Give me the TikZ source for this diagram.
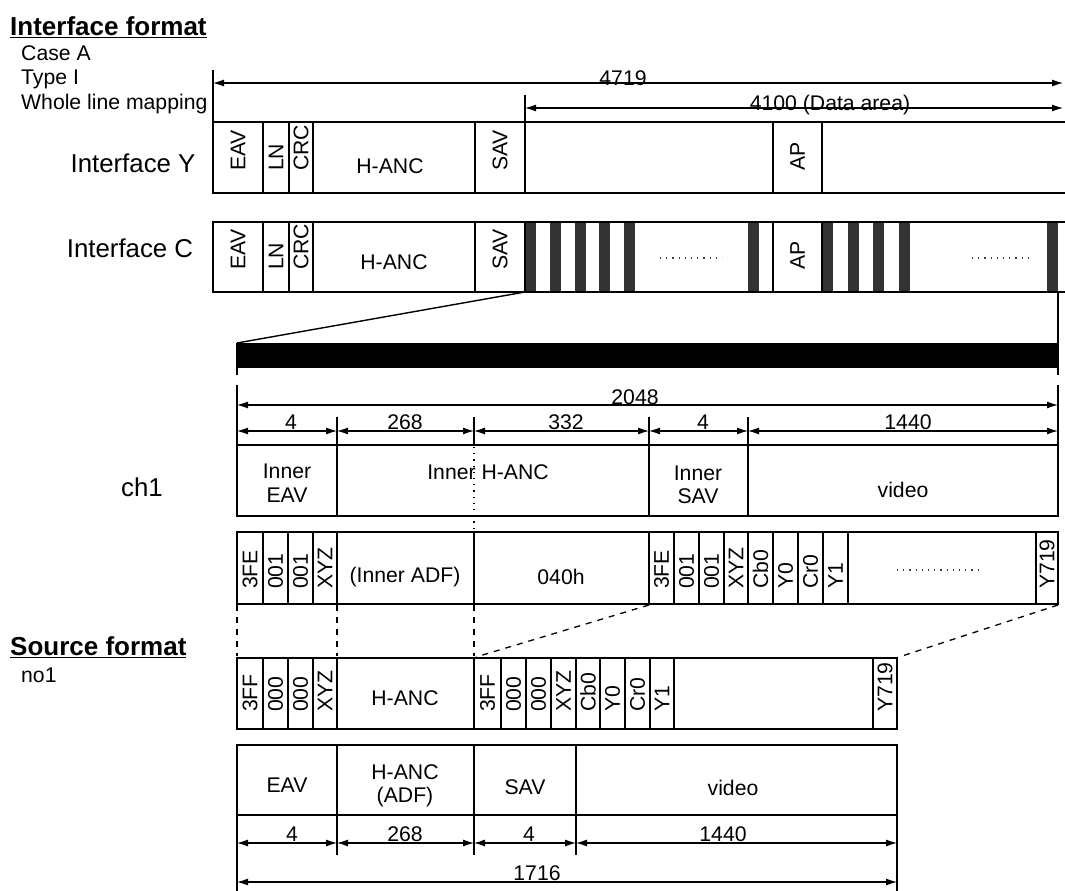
\documentclass[tikz,border=0pt]{standalone}
\usepackage{fontspec}
\setmainfont{Liberation Sans}
\usetikzlibrary{arrows.meta}
\newcommand\myfsS{\fontsize{21.2}{23.5}\selectfont}
\newcommand\myfsL{\fontsize{25.8}{28}\selectfont}
\newcommand\myfsH{\fontsize{26}{28}\selectfont\bfseries}
\begin{document}
\begin{tikzpicture}[x=1pt,y=-1pt,
  frame/.style={line width=2.6pt},
  divider/.style={line width=1.5pt},
  tickline/.style={line width=1.1pt},
  dimline/.style={line width=1.2pt,{Latex[length=11pt,width=7pt]}-{Latex[length=11pt,width=7pt]}},
  lbl/.style={font=\myfsS, inner sep=0pt, align=center},
  big/.style={font=\myfsL, inner sep=0pt},
  head/.style={font=\myfsH, inner sep=0pt, anchor=west},
  rot/.style={font=\myfsS, inner sep=0pt, rotate=90, anchor=west},
  dimlbl/.style={font=\myfsS, inner sep=0pt, anchor=base},
  bar/.style={fill=black!80},
  dashline/.style={line width=1.3pt, dash pattern=on 6pt off 6pt},
  dotline/.style={line width=1.2pt, dash pattern=on 1.2pt off 5pt, black!75},
]
\useasboundingbox (0,0) rectangle (1065,891);

% ---------- headings ----------
\node[head] (hif) at (10,27) {\underline{Interface format}};
\node[lbl, anchor=west] (caseA) at (21,53) {Case A};
\node[lbl, anchor=west] (typeI) at (21,79) {Type I};
\node[lbl, anchor=west] (whole) at (21,104) {Whole line mapping};
\node[big] (ify) at (133,163) {Interface Y};
\node[big] (ifc) at (130,248) {Interface C};

% ---------- top dimensions ----------
\draw[tickline] (213,70) -- (213,122);
\draw[tickline] (525,95) -- (525,122);
\coordinate (d1a) at (213,83); \coordinate (d1b) at (1063,83);
\coordinate (d2a) at (525,108); \coordinate (d2b) at (1063,108);
\draw[dimline] (d1a) -- (d1b);
\draw[dimline] (d2a) -- (d2b);
\node[dimlbl] (l4719) at (623,85) {4719};
\node[dimlbl] (l4100) at (830,110) {4100 (Data area)};

% ---------- Interface Y ----------
\draw[frame] (1070,122) -- (213,122) -- (213,193) -- (1070,193);
\foreach \x in {263,289,313,475,525,773,822} \draw[divider] (\x,122) -- (\x,193);
\node[rot] (yeav) at (238,171) {EAV};
\node[rot] (yln) at (276,171) {LN};
\node[rot] (ycrc) at (301,171) {CRC};
\node[lbl] (yhanc) at (390,166) {H-ANC};
\node[rot] (ysav) at (500,171) {SAV};
\node[rot] (yap) at (797.5,171) {AP};

% ---------- Interface C ----------
\foreach \x in {525,550,575,599,624,748,822,848,873,899,1047} \fill[bar] (\x,222) rectangle (\x+11,292);
\draw[frame] (1070,222) -- (213,222) -- (213,292) -- (1070,292);
\foreach \x in {263,289,313,475,525,773,822} \draw[divider] (\x,222) -- (\x,292);
\node[rot] (ceav) at (238,270) {EAV};
\node[rot] (cln) at (276,270) {LN};
\node[rot] (ccrc) at (301,270) {CRC};
\node[lbl] (chanc) at (394,262) {H-ANC};
\node[rot] (csav) at (500,270) {SAV};
\node[rot] (cap) at (797.5,270) {AP};
\draw[dotline] (660,258) -- (722,258);
\draw[dotline] (972,258) -- (1033,258);

% ---------- zoom to band ----------
\coordinate (zs) at (525,292);
\coordinate (zt) at (237,343);
\draw[line width=1.4pt] (zs) -- (zt);
\fill (237,343) rectangle (1058,368);
\draw[divider] (1058,292) -- (1058,375);
\draw[tickline] (237,343) -- (237,375);

% ---------- ch1 dimensions ----------
\draw[tickline] (237,385) -- (237,445);
\draw[tickline] (1058,385) -- (1058,445);
\draw[dimline] (237,405) -- (1058,405);
\node[dimlbl] (l2048) at (635,404) {2048};
\foreach \x in {337,474,649,748} \draw[tickline] (\x,417) -- (\x,445);
\draw[dimline] (237,431) -- (337,431);
\draw[dimline] (337,431) -- (474,431);
\draw[dimline] (474,431) -- (649,431);
\draw[dimline] (649,431) -- (748,431);
\draw[dimline] (748,431) -- (1058,431);
\node[dimlbl] (c4a) at (291,429) {4};
\node[dimlbl] (c268) at (405,429) {268};
\node[dimlbl] (c332) at (566,429) {332};
\node[dimlbl] (c4b) at (703,429) {4};
\node[dimlbl] (c1440) at (908,429) {1440};

% ---------- ch1 box ----------
\node[big] (ch1) at (142,487) {ch1};
\draw[frame] (237,445) rectangle (1058,516);
\foreach \x in {337,649,748} \draw[divider] (\x,445) -- (\x,516);
\draw[dotline, black] (474,447) -- (474,531);
\node[lbl] (ieav) at (287,483) {Inner\\EAV};
\node[lbl] (ihanc) at (488,472) {Inner H-ANC};
\node[lbl] (isav) at (698,485) {Inner\\SAV};
\node[lbl] (ivideo) at (903,490) {video};

% ---------- ch1 word row ----------
\draw[frame] (237,532) rectangle (1058,604);
\foreach \x in {263,288,313,337,474,649,674,699,724,748,773,798,823,848,1036} \draw[divider] (\x,532) -- (\x,604);
\foreach \x/\t in {250/3FE,275.5/001,300.5/001,325/XYZ,661.5/3FE,686.5/001,711.5/001,736/XYZ,760.5/Cb0,785.5/Y0,810.5/Cr0,835.5/Y1,1047/Y719}
  \node[rot] at (\x,589) {\t};
\node[lbl] (iadf) at (405,577) {(Inner ADF)};
\node[lbl] (i040) at (561,577) {040h};
\draw[dotline] (897,570) -- (983,570);

% ---------- mapping lines ----------
\draw[dashline] (237,605) -- (237,656);
\draw[dashline] (337,605) -- (337,656);
\draw[dashline] (474,605) -- (474,656);
\coordinate (m1a) at (649,605); \coordinate (m1b) at (476,657);
\coordinate (m2a) at (1058,605); \coordinate (m2b) at (899,657);
\draw[dashline] (m1a) -- (m1b);
\draw[dashline] (m2a) -- (m2b);

% ---------- Source format ----------
\node[head] (hsf) at (10,647) {\underline{Source format}};
\node[lbl, anchor=west] (no1) at (21,675) {no1};

\draw[frame] (237,658) rectangle (897,729);
\foreach \x in {263,288,313,337,474,501,526,551,576,600,625,650,674,873} \draw[divider] (\x,658) -- (\x,729);
\foreach \x/\t in {250/3FF,275.5/000,300.5/000,325/XYZ,487.5/3FF,513.5/000,538.5/000,563.5/XYZ,588/Cb0,612.5/Y0,637.5/Cr0,662/Y1,885/Y719}
  \node[rot] at (\x,712) {\t};
\node[lbl] (shanc) at (405,698) {H-ANC};

\draw[frame] (237,745) rectangle (897,815);
\foreach \x in {337,474,576} \draw[divider] (\x,745) -- (\x,815);
\node[lbl] (seav) at (287,785) {EAV};
\node[lbl] (sadf) at (405,786) {H-ANC\\(ADF)};
\node[lbl] (ssav) at (525,787) {SAV};
\node[lbl] (svideo) at (733,788) {video};

% ---------- source dimensions ----------
\draw[tickline] (237,815) -- (237,891);
\draw[tickline] (897,815) -- (897,891);
\foreach \x in {337,474,576} \draw[tickline] (\x,815) -- (\x,855);
\draw[dimline] (237,843) -- (337,843);
\draw[dimline] (337,843) -- (474,843);
\draw[dimline] (474,843) -- (576,843);
\draw[dimline] (576,843) -- (897,843);
\node[dimlbl] (s4a) at (292,841) {4};
\node[dimlbl] (s268) at (405,841) {268};
\node[dimlbl] (s4b) at (529,841) {4};
\node[dimlbl] (s1440) at (723,841) {1440};
\draw[dimline] (237,882) -- (897,882);
\node[dimlbl] (s1716) at (537,880) {1716};
\end{tikzpicture}
\end{document}
